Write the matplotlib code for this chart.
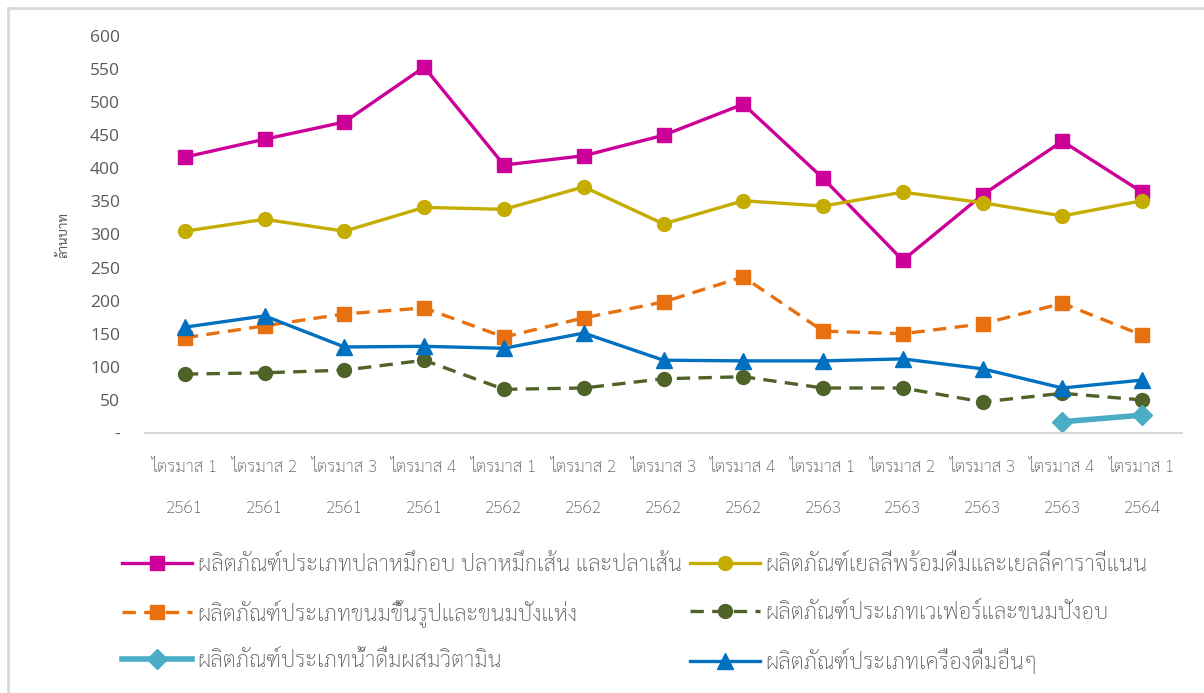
import matplotlib
matplotlib.use("Agg")
import matplotlib.pyplot as plt
from matplotlib.lines import Line2D

plt.rcParams['font.family'] = ["Sarabun", "DejaVu Sans"]
plt.rcParams['font.weight'] = "light"

quarters = ["ไตรมาส 1", "ไตรมาส 2", "ไตรมาส 3", "ไตรมาส 4",
            "ไตรมาส 1", "ไตรมาส 2", "ไตรมาส 3", "ไตรมาส 4",
            "ไตรมาส 1", "ไตรมาส 2", "ไตรมาส 3", "ไตรมาส 4",
            "ไตรมาส 1"]
years = ["2561"] * 4 + ["2562"] * 4 + ["2563"] * 4 + ["2564"]

squid = [417, 444, 470, 553, 405, 419, 450, 497, 385, 261, 360, 441, 364]
jelly = [305, 323, 305, 341, 338, 372, 316, 351, 343, 364, 348, 328, 351]
bakery = [144, 162, 180, 189, 145, 174, 198, 236, 154, 150, 165, 196, 148]
wafer = [89, 91, 95, 110, 66, 68, 82, 85, 68, 68, 47, 60, 50]
vitamin = [None] * 11 + [17, 27]
drinks = [160, 177, 130, 131, 128, 151, 110, 109, 109, 112, 97, 68, 80]

names = ["ผลิตภัณฑ์ประเภทปลาหมึกอบ ปลาหมึกเส้น และปลาเส้น",
         "ผลิตภัณฑ์เยลลี่พร้อมดื่มและเยลลี่คาราจีแนน",
         "ผลิตภัณฑ์ประเภทขนมขึ้นรูปและขนมปังแห่ง",
         "ผลิตภัณฑ์ประเภทเวเฟอร์และขนมปังอบ",
         "ผลิตภัณฑ์ประเภทน้ำดื่มผสมวิตามิน",
         "ผลิตภัณฑ์ประเภทเครื่องดื่มอื่นๆ"]

W, H = 1204, 693
fig = plt.figure(figsize=(W / 100, H / 100), dpi=100)
ax = fig.add_axes([145 / W, 1 - 433 / H, (1182 - 145) / W, 397 / H])

x = list(range(len(quarters)))
dash = (0, (4, 2.5))
h1, = ax.plot(x, squid, color="#CC0099", lw=2.4, marker="s", ms=10)
h2, = ax.plot(x, jelly, color="#C5AC00", lw=2.4, marker="o", ms=10)
h3, = ax.plot(x, bakery, color="#E8700E", lw=2.4, ls=dash, marker="s", ms=10)
h4, = ax.plot(x, wafer, color="#4F6228", lw=2.4, ls=dash, marker="o", ms=10)
h5, = ax.plot(x, vitamin, color="#4BACC6", lw=4, marker="D", ms=10)
h6, = ax.plot(x, drinks, color="#0070C0", lw=2.4, marker="^", ms=11)

ax.set_xlim(-0.5, 12.5)
ax.set_ylim(0, 600)
ax.set_yticks(range(0, 601, 50))
ax.set_yticklabels(["-"] + [str(v) for v in range(50, 601, 50)],
                   family=["Open Sans", "DejaVu Sans"], weight="normal")
ax.set_xticks(x)
ax.set_xticklabels([q + "\n\n" + y for q, y in zip(quarters, years)],
                   linespacing=1.25)
ax.tick_params(length=0, labelsize=12.5, colors="#595959")
ax.tick_params(axis="x", pad=19)
ax.tick_params(axis="y", pad=18)
for s in ["top", "right", "left"]:
    ax.spines[s].set_visible(False)
ax.spines["bottom"].set_color("#D9D9D9")
ax.spines["bottom"].set_linewidth(1.5)
ax.set_ylabel("ล้านบาท", fontsize=9.5, color="#595959", labelpad=14)

# one legend entry per slot, laid out in two columns and three rows
handles = [h1, h2, h3, h4, h5, h6]
col_x = [122, 690]
row_y = [565, 613, 661]
for i, (h, name) in enumerate(zip(handles, names)):
    leg = fig.legend([h], [name], loc="center left",
                     bbox_to_anchor=(col_x[i % 2] / W, 1 - row_y[i // 2] / H),
                     frameon=False, fontsize=16, handlelength=3.15,
                     handletextpad=0.25, borderpad=0, borderaxespad=0)
    leg.get_texts()[0].set_color("#595959")

# chart frame
fig.add_artist(Line2D([8 / W, 8 / W], [0, 1 - 8 / H], color="#D9D9D9", lw=2))
fig.add_artist(Line2D([8 / W, 1], [1 - 8 / H, 1 - 8 / H], color="#D9D9D9", lw=2))

fig.savefig("out.png", dpi=100)
